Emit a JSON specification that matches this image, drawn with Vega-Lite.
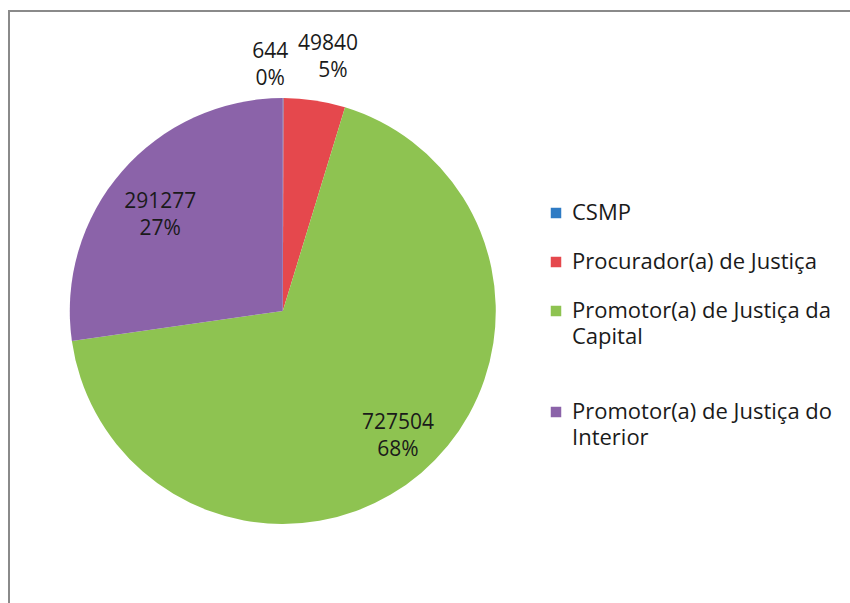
{
  "$schema": "https://vega.github.io/schema/vega-lite/v6.json",
  "autosize": "none",
  "width": 845,
  "height": 596,
  "padding": {"left": 9, "top": 11, "right": -4, "bottom": -4},
  "background": "white",
  "config": {
    "view": {"stroke": "#8a8a8a", "strokeWidth": 2},
    "font": "Open Sans",
    "style": {"guide-label": {"lineHeight": 26}}
  },
  "data": {
    "values": [
      {"categoria": "CSMP", "valor": 644, "pct": "0%"},
      {"categoria": "Procurador(a) de Justiça", "valor": 49840, "pct": "5%"},
      {"categoria": "Promotor(a) de Justiça da Capital", "valor": 727504, "pct": "68%"},
      {"categoria": "Promotor(a) de Justiça do Interior", "valor": 291277, "pct": "27%"}
    ]
  },
  "encoding": {
    "theta": {"field": "valor", "type": "quantitative", "stack": true},
    "order": {"field": "categoria", "type": "nominal"},
    "x": {"datum": 0.324, "type": "quantitative", "scale": {"domain": [0, 1]}, "axis": null},
    "y": {"datum": 0.5034, "type": "quantitative", "scale": {"domain": [0, 1], "reverse": true}, "axis": null}
  },
  "layer": [
    {
      "mark": {"type": "arc", "outerRadius": 213},
      "encoding": {
        "color": {
          "field": "categoria",
          "type": "nominal",
          "scale": {
            "domain": ["CSMP", "Procurador(a) de Justiça", "Promotor(a) de Justiça da Capital", "Promotor(a) de Justiça do Interior"],
            "range": ["#2E7BC4", "#E5484D", "#8EC351", "#8B63A9"]
          },
          "legend": {
            "title": null,
            "orient": "none",
            "legendX": 536,
            "legendY": 191,
            "symbolType": "square",
            "symbolSize": 110,
            "symbolStrokeWidth": 0,
            "labelFont": "Open Sans",
            "labelFontSize": 22,
            "labelColor": "#1a1a1a",
            "labelLimit": 400,
            "labelOffset": 5,
            "rowPadding": 27,
            "labelExpr": "datum.label == 'Promotor(a) de Justiça da Capital' ? ['Promotor(a) de Justiça da', 'Capital', ''] : datum.label == 'Promotor(a) de Justiça do Interior' ? ['Promotor(a) de Justiça do', 'Interior'] : datum.label"
          }
        }
      }
    },
    {
      "mark": {"type": "text", "radius": 165, "fontSize": 21, "color": "#1a1a1a", "dy": -13, "dx": 8},
      "encoding": {
        "text": {"condition": {"test": "datum.valor > 500000", "field": "valor", "type": "nominal"}, "value": ""}
      }
    },
    {
      "mark": {"type": "text", "radius": 165, "fontSize": 21, "color": "#1a1a1a", "dy": 14, "dx": 8},
      "encoding": {
        "text": {"condition": {"test": "datum.valor > 500000", "field": "pct", "type": "nominal"}, "value": ""}
      }
    },
    {
      "mark": {"type": "text", "radius": 165, "fontSize": 21, "color": "#1a1a1a", "dy": -1, "dx": 2},
      "encoding": {
        "text": {"condition": {"test": "datum.valor > 100000 && datum.valor < 500000", "field": "valor", "type": "nominal"}, "value": ""}
      }
    },
    {
      "mark": {"type": "text", "radius": 165, "fontSize": 21, "color": "#1a1a1a", "dy": 26, "dx": 2},
      "encoding": {
        "text": {"condition": {"test": "datum.valor > 100000 && datum.valor < 500000", "field": "pct", "type": "nominal"}, "value": ""}
      }
    },
    {
      "mark": {"type": "text", "radius": 250, "fontSize": 21, "color": "#1a1a1a", "dy": -9, "dx": -13},
      "encoding": {
        "text": {"condition": {"test": "datum.categoria == 'CSMP'", "field": "valor", "type": "nominal"}, "value": ""}
      }
    },
    {
      "mark": {"type": "text", "radius": 250, "fontSize": 21, "color": "#1a1a1a", "dy": 18, "dx": -13},
      "encoding": {
        "text": {"condition": {"test": "datum.categoria == 'CSMP'", "field": "pct", "type": "nominal"}, "value": ""}
      }
    },
    {
      "mark": {"type": "text", "radius": 255, "fontSize": 21, "color": "#1a1a1a", "dy": -15, "dx": 7},
      "encoding": {
        "text": {"condition": {"test": "datum.categoria == 'Procurador(a) de Justiça'", "field": "valor", "type": "nominal"}, "value": ""}
      }
    },
    {
      "mark": {"type": "text", "radius": 255, "fontSize": 21, "color": "#1a1a1a", "dy": 12, "dx": 12},
      "encoding": {
        "text": {"condition": {"test": "datum.categoria == 'Procurador(a) de Justiça'", "field": "pct", "type": "nominal"}, "value": ""}
      }
    }
  ]
}
